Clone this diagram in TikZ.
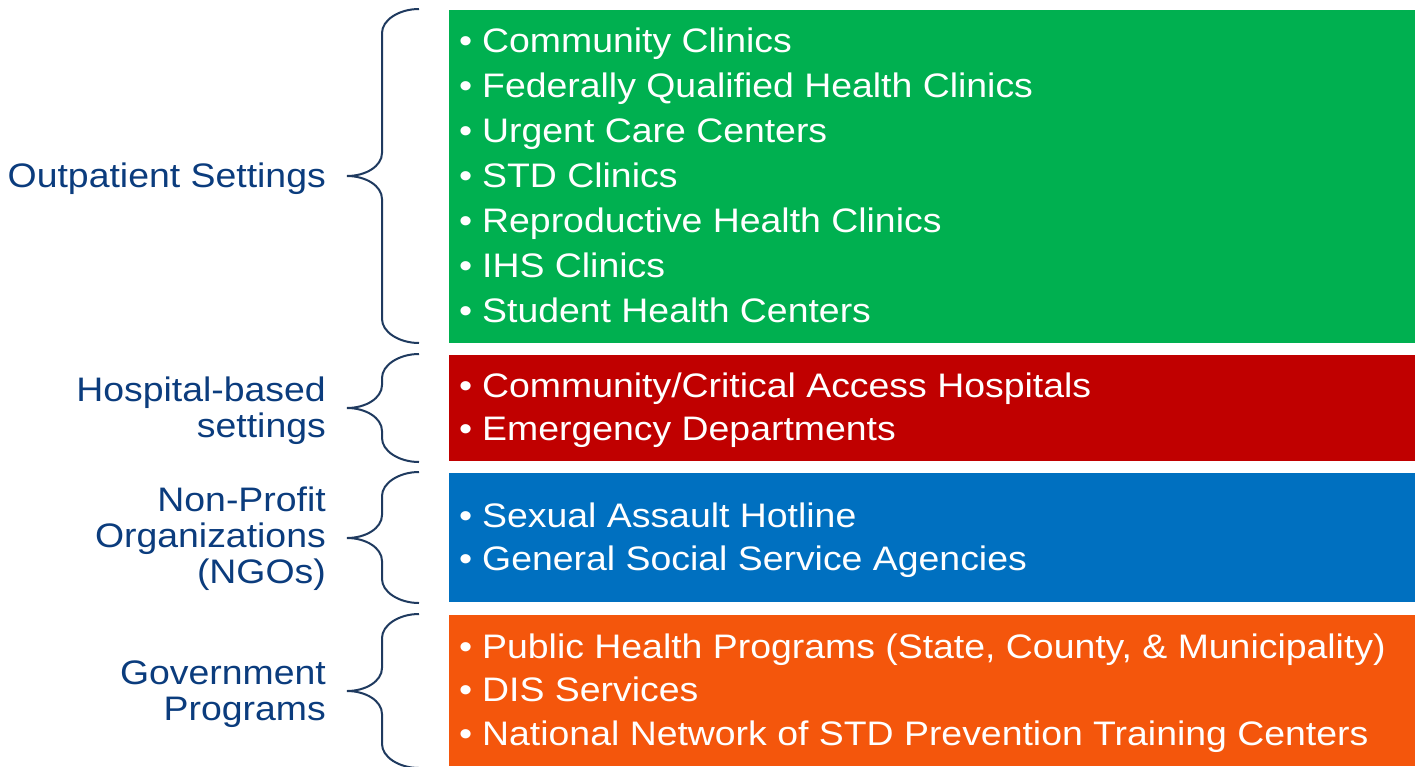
\documentclass[tikz,border=0pt]{standalone}
\usepackage{fontspec}
\setmainfont{Liberation Sans}[FakeStretch=1.1]

\definecolor{greenbox}{HTML}{00B050}
\definecolor{redbox}{HTML}{C00000}
\definecolor{bluebox}{HTML}{0070C0}
\definecolor{orangebox}{HTML}{F4560C}
\definecolor{labelblue}{HTML}{0B3C7D}
\definecolor{bracecol}{HTML}{1F3A5F}

\tikzset{
    bracestyle/.style={draw=bracecol, line width=2pt},
    grouplabel/.style={anchor=east, align=right, inner sep=0pt, text=labelblue},
    item/.style={anchor=base west, inner sep=0pt, text=white}
}

% brace from top y to bottom y, tip at the middle
\newcommand\groupbrace[3]{%
    \draw[bracestyle] (419,#1) .. controls (399,#1) and (382,#1+11) .. (382,#1+24)
        -- (382,#2-23) .. controls (382,#2-10) and (366,#2) .. (347,#2)
        .. controls (366,#2) and (382,#2+10) .. (382,#2+23)
        -- (382,#3-24) .. controls (382,#3-11) and (399,#3) .. (419,#3);}
\newcommand\bul{\makebox[23pt][l]{•}}

\begin{document}
\begin{tikzpicture}[x=1pt, y=-1pt, every node/.style={font=\fontsize{34}{36}\selectfont}]
    \useasboundingbox (0,0) rectangle (1415,766);

    \fill[greenbox] (449,10) rectangle (1415,343);
    \fill[redbox] (449,355) rectangle (1415,461);
    \fill[bluebox] (449,473) rectangle (1415,602);
    \fill[orangebox] (449,615) rectangle (1415,766);

    \groupbrace{9}{176}{343}
    \groupbrace{354}{408}{462}
    \groupbrace{472}{538}{603}
    \groupbrace{614}{691}{768}

    \node[grouplabel] (outpatient) at (326,179) {Outpatient Settings};
    \node[grouplabel] (hospital) at (326,411) {Hospital-based\\settings};
    \node[grouplabel] (ngo) at (326,539) {Non-Profit\\Organizations\\(NGOs)};
    \node[grouplabel] (government) at (326,694) {Government\\Programs};

    \node[item] (out1) at (459,52.5) {\bul Community Clinics};
    \node[item] (out2) at (459,97.5) {\bul Federally Qualified Health Clinics};
    \node[item] (out3) at (459,142.5) {\bul Urgent Care Centers};
    \node[item] (out4) at (459,187.5) {\bul STD Clinics};
    \node[item] (out5) at (459,232.5) {\bul Reproductive Health Clinics};
    \node[item] (out6) at (459,277.5) {\bul IHS Clinics};
    \node[item] (out7) at (459,322.5) {\bul Student Health Centers};

    \node[item] (hosp1) at (459,397) {\bul Community/Critical Access Hospitals};
    \node[item] (hosp2) at (459,440) {\bul Emergency Departments};

    \node[item] (ngo1) at (459,527) {\bul Sexual Assault Hotline};
    \node[item] (ngo2) at (459,570) {\bul General Social Service Agencies};

    \node[item] (gov1) at (459,658) {\bul Public Health Programs (State, County, \& Municipality)};
    \node[item] (gov2) at (459,701) {\bul DIS Services};
    \node[item] (gov3) at (459,745) {\bul National Network of STD Prevention Training Centers};
\end{tikzpicture}
\end{document}
